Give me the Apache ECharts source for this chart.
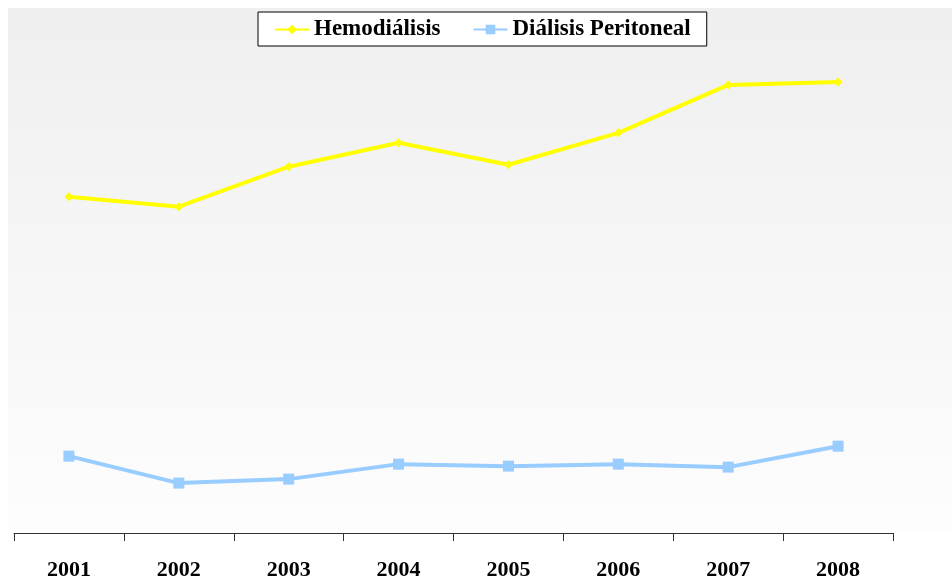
<!DOCTYPE html>
<html>
<head>
<meta charset="utf-8">
<script src="https://cdn.jsdelivr.net/npm/echarts@6/dist/echarts.min.js"></script>
<style>
html, body { margin: 0; padding: 0; background: #fff; }
#chart { width: 952px; height: 581px; }
</style>
</head>
<body>
<div id="chart"></div>
<script>
var years = ['2001', '2002', '2003', '2004', '2005', '2006', '2007', '2008'];
var hemodialisis = [3370, 3270, 3670, 3910, 3690, 4010, 4490, 4520];
var dialisisPeritoneal = [770, 500, 540, 690, 670, 690, 660, 870];

var font = '"Liberation Serif", "Times New Roman", serif';

var chart = echarts.init(document.getElementById('chart'));
var option = {
    animation: false,
    graphic: [{
        type: 'rect',
        left: 8,
        top: 8,
        silent: true,
        z: -10,
        shape: { width: 944, height: 522 },
        style: {
            fill: {
                type: 'linear', x: 0, y: 0, x2: 0, y2: 1,
                colorStops: [
                    { offset: 0, color: '#efefef' },
                    { offset: 1, color: '#fdfdfd' }
                ]
            }
        }
    }],
    legend: {
        top: 12,
        left: 258,
        padding: [6, 16, 5, 16],
        borderColor: '#000',
        borderWidth: 1,
        backgroundColor: '#fff',
        itemWidth: 34,
        itemHeight: 12,
        itemGap: 32,
        textStyle: { fontFamily: font, fontWeight: 'bold', fontSize: 23, color: '#000' },
        data: ['Hemodiálisis', 'Diálisis Peritoneal']
    },
    grid: {
        left: 14,
        right: 59,
        top: 34,
        bottom: 47
    },
    xAxis: {
        type: 'category',
        data: years,
        boundaryGap: true,
        axisLine: { lineStyle: { color: '#333', width: 1 } },
        axisTick: { show: true, length: 8, lineStyle: { color: '#333' } },
        axisLabel: {
            margin: 26,
            fontFamily: font,
            fontWeight: 'bold',
            fontSize: 22,
            color: '#000'
        }
    },
    yAxis: {
        type: 'value',
        min: 0,
        max: 5000,
        show: false,
        splitLine: { show: false }
    },
    series: [{
        name: 'Hemodiálisis',
        type: 'line',
        data: hemodialisis,
        symbol: 'diamond',
        symbolSize: 9,
        itemStyle: { color: '#ffff00' },
        lineStyle: { color: '#ffff00', width: 4 }
    }, {
        name: 'Diálisis Peritoneal',
        type: 'line',
        data: dialisisPeritoneal,
        symbol: 'rect',
        symbolSize: 11,
        itemStyle: { color: '#99ccff' },
        lineStyle: { color: '#99ccff', width: 4 }
    }]
};
chart.setOption(option);
</script>
</body>
</html>
